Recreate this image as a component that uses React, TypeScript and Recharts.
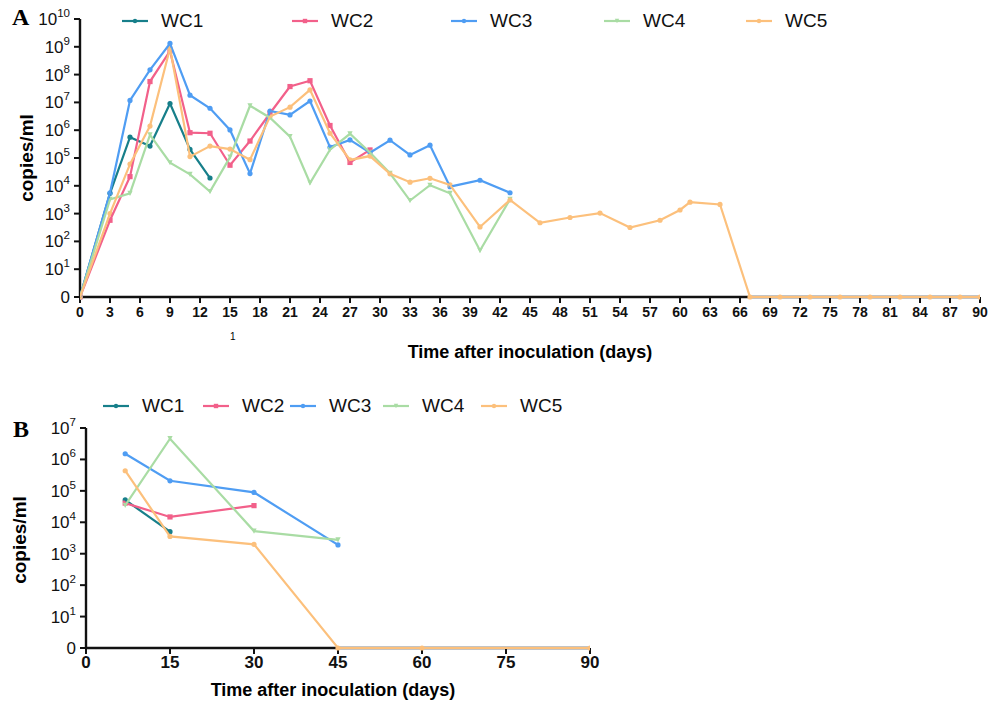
import React from 'react';
import { LineChart, Line, XAxis, YAxis, Legend, ReferenceLine } from 'recharts';

// series names and colours
const seriesNames = ['WC1', 'WC2', 'WC3', 'WC4', 'WC5'];
const seriesColors = ['#177f8a', '#f2608a', '#4f9df3', '#a9dca4', '#fcc07c'];
const seriesMarkers = ['circle', 'square', 'circle', 'triangle', 'circle'];

// Panel A: days and log10(copies/ml), 0 = not detected
const wc1DaysA = [0, 3, 5, 7, 9, 11, 13];
const wc1LogA = [0, 3.73, 5.75, 5.43, 6.96, 5.31, 4.28];
const wc2DaysA = [0, 3, 5, 7, 9, 11, 13, 15, 17, 19, 21, 23, 25, 27, 29];
const wc2LogA = [0, 2.76, 4.33, 7.75, 8.85, 5.91, 5.89, 4.74, 5.61, 6.61, 7.57, 7.78, 6.17, 4.84, 5.29];
const wc3DaysA = [0, 3, 5, 7, 9, 11, 13, 15, 17, 19, 21, 23, 25, 27, 29, 31, 33, 35, 37, 40, 43];
const wc3LogA = [0, 3.75, 7.07, 8.17, 9.12, 7.26, 6.79, 6.01, 4.44, 6.69, 6.55, 7.05, 5.39, 5.65, 5.19, 5.64, 5.11, 5.46, 3.97, 4.2, 3.75];
const wc4DaysA = [0, 3, 5, 7, 9, 11, 13, 15, 17, 19, 21, 23, 25, 27, 29, 31, 33, 35, 37, 40, 43];
const wc4LogA = [0, 3.51, 3.73, 5.83, 4.83, 4.41, 3.79, 5.03, 6.88, 6.45, 5.77, 4.1, 5.3, 5.87, 5.2, 4.45, 3.47, 4.02, 3.73, 1.67, 3.51];
const wc5DaysA = [0, 3, 5, 7, 9, 11, 13, 15, 17, 19, 21, 23, 25, 27, 29, 31, 33, 35, 37, 40, 43, 46, 49, 52, 55, 58, 60, 61, 64, 67, 70, 73, 76, 79, 82, 85, 88, 90];
const wc5LogA = [0, 3.0, 4.78, 6.15, 8.95, 5.05, 5.43, 5.32, 4.94, 6.49, 6.83, 7.45, 5.89, 4.93, 5.07, 4.43, 4.13, 4.27, 4.03, 2.52, 3.49, 2.67, 2.86, 3.02, 2.5, 2.76, 3.13, 3.41, 3.33, 0, 0, 0, 0, 0, 0, 0, 0, 0];

// Panel B
const wc1DaysB = [7, 15];
const wc1LogB = [4.71, 3.7];
const wc2DaysB = [7, 15, 30];
const wc2LogB = [4.61, 4.17, 4.53];
const wc3DaysB = [7, 15, 30, 45];
const wc3LogB = [6.18, 5.32, 4.95, 3.28];
const wc4DaysB = [7, 15, 30, 45];
const wc4LogB = [4.54, 6.66, 3.72, 3.44];
const wc5DaysB = [7, 15, 30, 45, 60, 90];
const wc5LogB = [5.64, 3.55, 3.3, 0, 0, 0];

// axis ticks
const xTicksA = Array.from({ length: 31 }, (_, i) => i * 3);
const yTicksA = [0, 1, 2, 3, 4, 5, 6, 7, 8, 9, 10];
const xTicksB = [0, 15, 30, 45, 60, 75, 90];
const yTicksB = [0, 1, 2, 3, 4, 5, 6, 7];

const toPoints = (days: number[], logs: number[]) => days.map((d, i) => ({ day: d, value: logs[i] }));

const seriesA = [
  toPoints(wc1DaysA, wc1LogA),
  toPoints(wc2DaysA, wc2LogA),
  toPoints(wc3DaysA, wc3LogA),
  toPoints(wc4DaysA, wc4LogA),
  toPoints(wc5DaysA, wc5LogA),
];
const seriesB = [
  toPoints(wc1DaysB, wc1LogB),
  toPoints(wc2DaysB, wc2LogB),
  toPoints(wc3DaysB, wc3LogB),
  toPoints(wc4DaysB, wc4LogB),
  toPoints(wc5DaysB, wc5LogB),
];

const FONT = '"Liberation Sans", Arial, sans-serif';

function Marker({ cx, cy, kind, color, size = 2.6 }: any) {
  if (cx == null || cy == null) return null;
  if (kind === 'square') {
    return <rect x={cx - size} y={cy - size} width={size * 2} height={size * 2} fill={color} />;
  }
  if (kind === 'triangle') {
    return <polygon points={`${cx - size},${cy - size} ${cx + size},${cy - size} ${cx},${cy + size}`} fill={color} />;
  }
  return <circle cx={cx} cy={cy} r={size} fill={color} />;
}

function LogTick({ x, y, payload, fontSize }: any) {
  if (payload.value === 0) {
    return (
      <text x={x} y={y} dy={6} textAnchor="end" fontSize={fontSize} fontFamily={FONT} fill="#111">
        0
      </text>
    );
  }
  return (
    <text x={x} y={y} dy={6} textAnchor="end" fontSize={fontSize} fontFamily={FONT} fill="#111">
      <tspan>10</tspan>
      <tspan dy={-8} fontSize={fontSize * 0.68}>{payload.value}</tspan>
    </text>
  );
}

function BoldXTick({ x, y, payload, fontSize }: any) {
  return (
    <text x={x} y={y} dy={12} textAnchor="middle" fontSize={fontSize} fontWeight="bold" fontFamily={FONT} fill="#111">
      {payload.value}
    </text>
  );
}

function makeLegend(positions: number[], top: number, fontSize: number) {
  return function LegendContent() {
    return (
      <div style={{ position: 'relative', height: 0 }}>
        {seriesNames.map((name, i) => (
          <div key={name} style={{ position: 'absolute', left: positions[i], top: top, display: 'flex', alignItems: 'center', whiteSpace: 'nowrap' }}>
            <svg width={26} height={10} style={{ display: 'block' }}>
              <line x1={0} y1={5} x2={26} y2={5} stroke={seriesColors[i]} strokeWidth={2.2} />
              <Marker cx={13} cy={5} kind={seriesMarkers[i]} color={seriesColors[i]} size={2.2} />
            </svg>
            <span style={{ marginLeft: 13, fontFamily: FONT, fontSize: fontSize, color: '#111', lineHeight: 1 }}>{name}</span>
          </div>
        ))}
      </div>
    );
  };
}

const legendA = makeLegend([122, 292, 451, 604, 746], 11, 19);
const legendB = makeLegend([103, 203, 290, 383, 481], 16, 19);

function Panel({ data, width, height, margin, xTicks, yTicks, yMax, yAxisWidth, legend, xFont }: any) {
  return (
    <LineChart width={width} height={height} data={[]} margin={margin}>
      <XAxis
        type="number"
        dataKey="day"
        domain={[0, 90]}
        ticks={xTicks}
        interval={0}
        allowDataOverflow
        height={30}
        axisLine={false}
        tickLine={{ stroke: '#111', strokeWidth: 2 }}
        tickSize={6}
        tickMargin={2}
        tick={<BoldXTick fontSize={xFont} />}
      />
      <YAxis
        type="number"
        domain={[0, yMax]}
        ticks={yTicks}
        interval={0}
        width={yAxisWidth}
        axisLine={{ stroke: '#111', strokeWidth: 2.4 }}
        tickLine={{ stroke: '#111', strokeWidth: 2 }}
        tickSize={6}
        tickMargin={4}
        tick={<LogTick fontSize={17} />}
      />
      {/* x axis line drawn as reference line so the zero-valued series sits on top of it */}
      <ReferenceLine y={0} stroke="#111" strokeWidth={2.4} zIndex={100} />
      <Legend content={legend} wrapperStyle={{ position: 'absolute', left: 0, top: 0, width: width, height: 0 }} />
      {data.map((points: any[], i: number) => (
        <Line
          key={seriesNames[i]}
          name={seriesNames[i]}
          data={points}
          dataKey="value"
          type="linear"
          stroke={seriesColors[i]}
          strokeWidth={2.2}
          isAnimationActive={false}
          zIndex={2000}
          dot={(p: any) => <Marker key={`${i}-${p.index}`} cx={p.cx} cy={p.cy} kind={seriesMarkers[i]} color={seriesColors[i]} />}
          activeDot={false}
        />
      ))}
    </LineChart>
  );
}

export default function App() {
  return (
    <div style={{ position: 'absolute', left: 0, top: 0, width: 1003, height: 705, background: '#fff', fontFamily: FONT }}>
      <div style={{ position: 'absolute', left: 0, top: 0 }}>
        <Panel
          data={seriesA}
          width={1003}
          height={370}
          margin={{ top: 19, right: 23, bottom: 43, left: 0 }}
          xTicks={xTicksA}
          yTicks={yTicksA}
          yMax={10}
          yAxisWidth={80}
          legend={legendA}
          xFont={14}
        />
      </div>
      <div style={{ position: 'absolute', left: 0, top: 380 }}>
        <Panel
          data={seriesB}
          width={620}
          height={325}
          margin={{ top: 48, right: 30, bottom: 27, left: 0 }}
          xTicks={xTicksB}
          yTicks={yTicksB}
          yMax={7}
          yAxisWidth={86}
          legend={legendB}
          xFont={17}
        />
      </div>

      {/* panel letters and axis titles */}
      <div style={{ position: 'absolute', left: 12, top: 4, fontFamily: '"Liberation Serif", "Times New Roman", serif', fontWeight: 'bold', fontSize: 24 }}>A</div>
      <div style={{ position: 'absolute', left: 13, top: 416, fontFamily: '"Liberation Serif", "Times New Roman", serif', fontWeight: 'bold', fontSize: 24 }}>B</div>
      <div style={{ position: 'absolute', left: 27, top: 158, transform: 'translate(-50%, -50%) rotate(-90deg)', fontWeight: 'bold', fontSize: 19, whiteSpace: 'nowrap' }}>copies/ml</div>
      <div style={{ position: 'absolute', left: 20, top: 540, transform: 'translate(-50%, -50%) rotate(-90deg)', fontWeight: 'bold', fontSize: 19, whiteSpace: 'nowrap' }}>copies/ml</div>
      <div style={{ position: 'absolute', left: 530, top: 352, transform: 'translate(-50%, -50%)', fontWeight: 'bold', fontSize: 18, whiteSpace: 'nowrap' }}>Time after inoculation (days)</div>
      <div style={{ position: 'absolute', left: 333, top: 690, transform: 'translate(-50%, -50%)', fontWeight: 'bold', fontSize: 18, whiteSpace: 'nowrap' }}>Time after inoculation (days)</div>
      <div style={{ position: 'absolute', left: 230, top: 331, fontSize: 10 }}>1</div>
    </div>
  );
}
